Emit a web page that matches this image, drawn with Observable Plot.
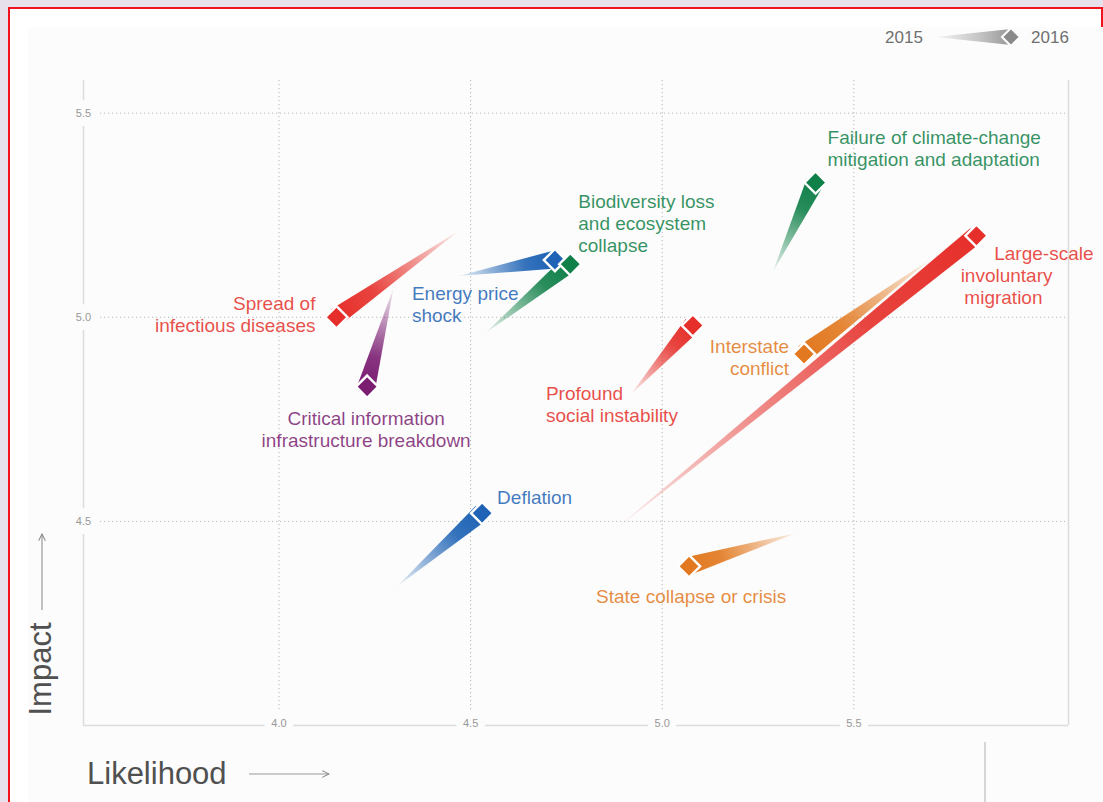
<!DOCTYPE html>
<html><head><meta charset="utf-8">
<script src="https://cdn.jsdelivr.net/npm/d3@7"></script>
<script src="https://cdn.jsdelivr.net/npm/@observablehq/plot@0.6"></script>
<style>
html,body{margin:0;padding:0;width:1103px;height:802px;overflow:hidden;background:#e6e1ea;font-family:"Liberation Sans",Arial,sans-serif;}
#frame{position:absolute;left:8px;top:7px;width:1091px;height:820px;border:2px solid #f2121c;background:#fff;}
#panel{position:absolute;left:28px;top:27px;width:1075px;height:775px;background:#fbfcfb;}
#chart{position:absolute;left:0;top:0;}
#overlay{position:absolute;left:0;top:0;pointer-events:none;}
</style></head><body>
<div id="frame"></div><div id="panel"></div>
<div id="chart"></div>
<svg id="overlay" width="1103" height="802" font-family="Liberation Sans, Arial, sans-serif">
  <defs>
    <linearGradient id="legGrad" x1="935" y1="0" x2="1010" y2="0" gradientUnits="userSpaceOnUse">
      <stop offset="0" stop-color="#8c8c8c" stop-opacity="0.05"/>
      <stop offset="0.6" stop-color="#8c8c8c" stop-opacity="0.5"/>
      <stop offset="1" stop-color="#8c8c8c" stop-opacity="0.9"/>
    </linearGradient>
    <marker id="arr" viewBox="0 0 10 10" refX="9" refY="5" markerWidth="7" markerHeight="7" orient="auto">
      <path d="M1,1 L9,5 L1,9" fill="none" stroke="#888" stroke-width="1.2"/>
    </marker>
  </defs>
  <text x="904" y="37" text-anchor="middle" dy="0.35em" font-size="17" fill="#707070">2015</text>
  <polygon points="935,37 1011,29 1011,45" fill="url(#legGrad)"/>
  <path d="M1011,28 L1020,37 L1011,46 L1002,37 Z" fill="#8a8a8a" stroke="#fff" stroke-width="2"/>
  <text x="1050" y="37" text-anchor="middle" dy="0.35em" font-size="17" fill="#707070">2016</text>
  <text transform="translate(51,669) rotate(-90)" text-anchor="middle" font-size="31" fill="#505050">Impact</text>
  <line x1="42" y1="610" x2="42" y2="534" stroke="#999" stroke-width="1.2" marker-end="url(#arr)"/>
  <text x="87" y="784" font-size="31" fill="#505050">Likelihood</text>
  <line x1="249" y1="774" x2="329" y2="774" stroke="#999" stroke-width="1.2" marker-end="url(#arr)"/>
  <line x1="985" y1="742" x2="985" y2="802" stroke="#c8c8c8" stroke-width="1.5"/>
</svg>
<script>
// ---- data ----
const risks = [
  "Spread of infectious diseases",
  "Critical information infrastructure breakdown",
  "Energy price shock",
  "Biodiversity loss and ecosystem collapse",
  "Failure of climate-change mitigation and adaptation",
  "Large-scale involuntary migration",
  "Interstate conflict",
  "Profound social instability",
  "Deflation",
  "State collapse or crisis"
];
const categories = ["Societal","Technological","Economic","Environmental","Environmental","Societal","Geopolitical","Societal","Economic","Geopolitical"];
const likelihood2015 = [4.47, 4.30, 4.47, 4.54, 5.29, 4.88, 5.70, 4.92, 4.31, 5.35];
const impact2015     = [5.21, 5.07, 5.10, 4.96, 5.11, 4.48, 5.14, 4.81, 4.34, 4.47];
const likelihood2016 = [4.15, 4.23, 4.72, 4.76, 5.40, 5.82, 5.37, 5.08, 4.53, 5.07];
const impact2016     = [5.00, 4.83, 5.14, 5.13, 5.33, 5.20, 4.91, 4.98, 4.52, 4.39];
const xTicks = [4.0, 4.5, 5.0, 5.5];
const yTicks = [4.5, 5.0, 5.5];
const xDomain = [3.49, 6.06];
const yDomain = [4.0, 5.58];
const categoryNames = ["Economic","Environmental","Geopolitical","Societal","Technological"];
const labelRisk = [0, 1, 2, 3, 4, 5, 5, 5, 6, 7, 8, 9];
const labelText = [
  "Spread of\ninfectious diseases",
  "Critical information\ninfrastructure breakdown",
  "Energy price\nshock",
  "Biodiversity loss\nand ecosystem\ncollapse",
  "Failure of climate-change\nmitigation and adaptation",
  "Large-scale", "involuntary", "migration",
  "Interstate\nconflict",
  "Profound\nsocial instability",
  "Deflation",
  "State collapse or crisis"
];

// ---- styles / layout ----
const categoryColors = ["#1e63b5","#108049","#e2781f","#e62f2a","#7b1e72"];
const labelLayout = [
  {dx: -21, dy: -3, anchor: "end"},
  {dx: -1, dy: 42, anchor: "middle"},
  {dx: -143, dy: 44, anchor: "start"},
  {dx: 8, dy: -41, anchor: "start"},
  {dx: 12, dy: -35, anchor: "start"},
  {dx: 117, dy: 17, anchor: "end"},
  {dx: 76, dy: 39, anchor: "end"},
  {dx: 66, dy: 61, anchor: "end"},
  {dx: -15, dy: 3, anchor: "end"},
  {dx: -147, dy: 79, anchor: "start"},
  {dx: 15, dy: -16, anchor: "start"},
  {dx: -93, dy: 30, anchor: "start"}
];
const panelBg = "#fbfcfb";
const font = "Liberation Sans, Arial, sans-serif";
const idx = d3.range(risks.length);

function wedges(index, scales) {
  const ns = "http://www.w3.org/2000/svg";
  const g = document.createElementNS(ns, "g");
  const defs = document.createElementNS(ns, "defs");
  g.appendChild(defs);
  const half = 9;
  idx.forEach(i => {
    const hx = scales.x(likelihood2016[i]), hy = scales.y(impact2016[i]);
    const tx = scales.x(likelihood2015[i]), ty = scales.y(impact2015[i]);
    const col = scales.color(categories[i]);
    const len = Math.hypot(tx - hx, ty - hy);
    const ux = (tx - hx) / len, uy = (ty - hy) / len;
    const nx = -uy, ny = ux;
    const grad = document.createElementNS(ns, "linearGradient");
    grad.setAttribute("id", "wedge-grad-" + i);
    grad.setAttribute("gradientUnits", "userSpaceOnUse");
    grad.setAttribute("x1", hx); grad.setAttribute("y1", hy);
    grad.setAttribute("x2", tx); grad.setAttribute("y2", ty);
    [[0, 1], [0.3, 0.9], [0.65, 0.5], [1, 0.06]].forEach(([o, a]) => {
      const s = document.createElementNS(ns, "stop");
      s.setAttribute("offset", o);
      s.setAttribute("stop-color", col);
      s.setAttribute("stop-opacity", a);
      grad.appendChild(s);
    });
    defs.appendChild(grad);
    const poly = document.createElementNS(ns, "polygon");
    poly.setAttribute("points", [
      [hx + nx * half, hy + ny * half],
      [hx - nx * half, hy - ny * half],
      [tx, ty]
    ].map(p => p.join(",")).join(" "));
    poly.setAttribute("fill", "url(#wedge-grad-" + i + ")");
    g.appendChild(poly);
  });
  return g;
}

const labelMarks = labelText.map((t, j) => Plot.text([j], {
  x: k => likelihood2016[labelRisk[k]],
  y: k => impact2016[labelRisk[k]],
  text: k => labelText[k],
  fill: k => categories[labelRisk[k]],
  fillOpacity: 0.85,
  dx: labelLayout[j].dx,
  dy: labelLayout[j].dy,
  textAnchor: labelLayout[j].anchor,
  fontSize: 19,
  lineHeight: 1.16,
  fontFamily: font
}));

const chart = Plot.plot({
  width: 1103,
  height: 802,
  marginLeft: 83,
  marginRight: 35,
  marginTop: 80,
  marginBottom: 77,
  style: {background: "transparent", overflow: "visible", fontFamily: font},
  x: {domain: xDomain, axis: null},
  y: {domain: yDomain, axis: null},
  color: {domain: categoryNames, range: categoryColors},
  marks: [
    Plot.ruleX(xTicks, {x: d => d, stroke: "#b8b8b8", strokeDasharray: "1.2,2.8", insetBottom: 14}),
    Plot.ruleY(yTicks, {y: d => d, stroke: "#b8b8b8", strokeDasharray: "1.2,2.8", insetLeft: 17}),
    Plot.ruleX(xDomain, {x: d => d, stroke: "#dcdcdc", strokeWidth: 1.5}),
    Plot.ruleY([yDomain[0]], {y: d => d, stroke: "#dcdcdc", strokeWidth: 1.5}),
    Plot.text(xTicks, {x: d => d, frameAnchor: "bottom", text: d => d.toFixed(1), fill: "#999", fontSize: 11, stroke: panelBg, strokeWidth: 14, dy: 1, fontFamily: font}),
    Plot.text(yTicks, {y: d => d, frameAnchor: "left", text: d => d.toFixed(1), fill: "#999", fontSize: 11, stroke: panelBg, strokeWidth: 18, textAnchor: "middle", fontFamily: font}),
    wedges,
    Plot.dot(idx, {x: i => likelihood2016[i], y: i => impact2016[i], fill: i => categories[i], symbol: "diamond2", r: 10, stroke: "#fff", strokeWidth: 2.4}),
    ...labelMarks
  ]
});
document.getElementById("chart").appendChild(chart);
</script>
</body></html>
